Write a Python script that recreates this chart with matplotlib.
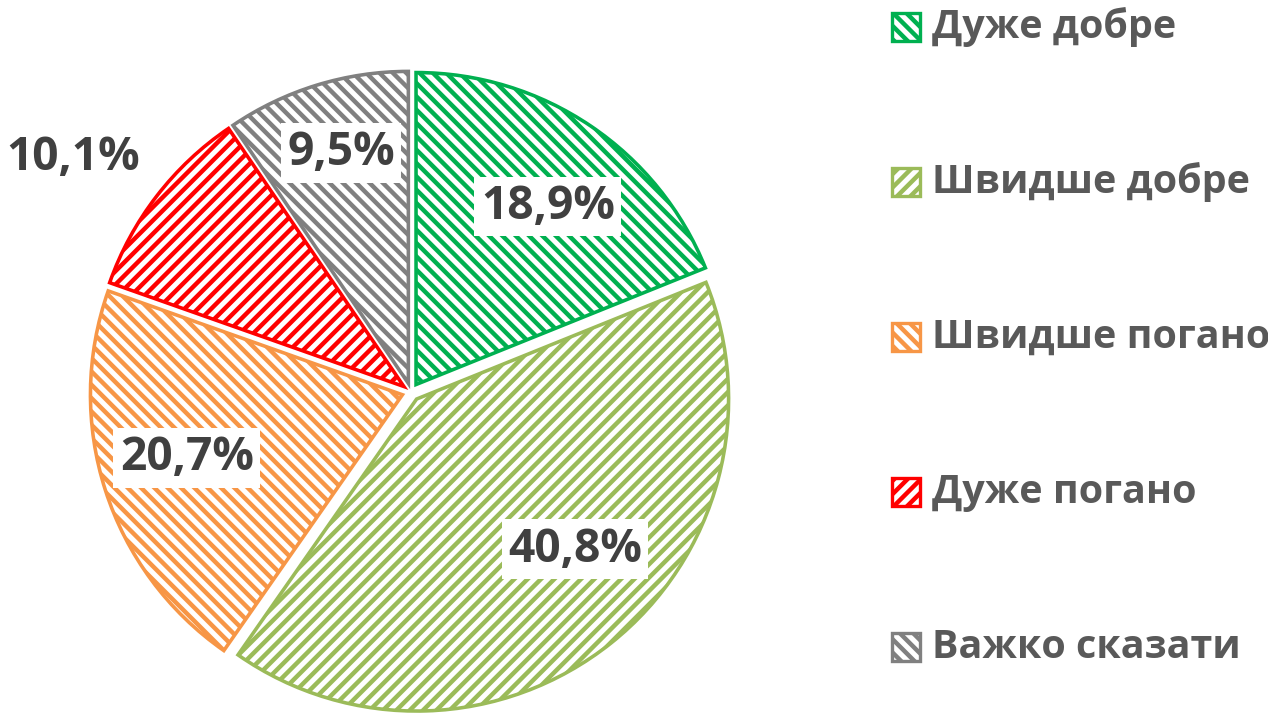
import numpy as np
import matplotlib
matplotlib.use("Agg")
import matplotlib.pyplot as plt
from matplotlib.patches import Rectangle

plt.rcParams['font.family'] = ['Open Sans', 'DejaVu Sans']
plt.rcParams['hatch.linewidth'] = 4.0

# data
categories = ['Дуже добре', 'Швидше добре', 'Швидше погано', 'Дуже погано', 'Важко сказати']
values = [18.9, 40.8, 20.7, 10.1, 9.5]
labels = ['18,9%', '40,8%', '20,7%', '10,1%', '9,5%']
colors = ['#00B050', '#9BBB59', '#F79646', '#FF0000', '#808080']
hatches = ['\\\\', '//', '\\\\', '//', '\\\\']

# label placement (fraction of radius, angle shift in degrees)
label_r = [0.71, 0.70, 0.72, 1.29, 0.77]
label_shift = [-2.5, 8.0, -1.5, 3.0, -0.8]

W, H = 1268, 714
fig = plt.figure(figsize=(W / 80, H / 80), dpi=80)
ax = fig.add_axes([0, 0, 1, 1])

R = 312
cx, cy = 411, H - 392
expl = 9

wedges, _ = ax.pie(values, radius=R, center=(cx, cy), startangle=90, counterclock=False,
                   explode=[expl] * len(values), colors=['white'] * len(values),
                   wedgeprops=dict(linewidth=3.2))
for w, c, h in zip(wedges, colors, hatches):
    w.set_edgecolor(c)
    w.set_hatch(h)

for w, lab, rf, sh in zip(wedges, labels, label_r, label_shift):
    mid = np.deg2rad((w.theta1 + w.theta2) / 2)
    ox, oy = w.center
    ang = mid + np.deg2rad(sh)
    ax.text(ox + rf * R * np.cos(ang), oy + rf * R * np.sin(ang), lab,
            ha='center', va='center', fontsize=41.5, fontweight='bold', color='#404040',
            bbox=dict(facecolor='white', edgecolor='none', pad=6))

# legend
for i, (cat, c, h) in enumerate(zip(categories, colors, hatches)):
    yc = H - 27 - i * 155
    ax.add_patch(Rectangle((892, yc - 14), 28, 28, facecolor='white', edgecolor=c,
                           hatch=h, linewidth=3.0))
    ax.text(932, yc, cat, ha='left', va='center', fontsize=35.5, fontweight='bold',
            color='#595959')

ax.set_xlim(0, W)
ax.set_ylim(0, H)
ax.set_aspect('auto')
ax.axis('off')

fig.savefig('out.png', dpi=80, facecolor='white')
